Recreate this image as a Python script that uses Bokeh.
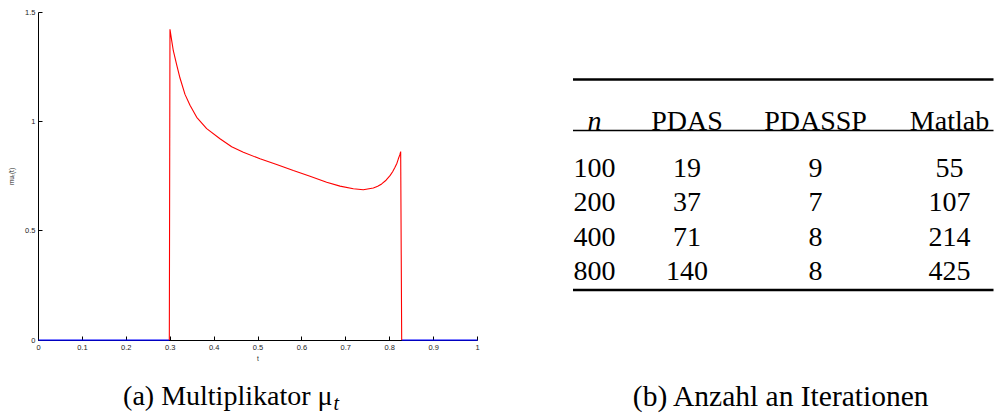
from bokeh.plotting import figure
from bokeh.models import Range1d, FixedTicker
from bokeh.layouts import column, row
from bokeh.embed import file_html
from bokeh.resources import INLINE
from bokeh.core.properties import value

# ---------------- data: multiplier mu_t(t) ----------------
t_active = [0.298, 0.2995, 0.3035, 0.3071, 0.3148, 0.3223, 0.3337, 0.3451, 0.3604,
            0.3831, 0.4134, 0.4400, 0.4666, 0.5046, 0.5425, 0.5805, 0.6185, 0.6564,
            0.6868, 0.7172, 0.7399, 0.7627, 0.7727, 0.7817, 0.7917, 0.8007, 0.8070,
            0.8121, 0.8165, 0.8197, 0.8230, 0.8250, 0.8273]
mu_active = [0.0, 1.423, 1.370, 1.325, 1.260, 1.200, 1.125, 1.075, 1.020,
             0.968, 0.922, 0.885, 0.860, 0.830, 0.804, 0.776, 0.750, 0.723,
             0.705, 0.693, 0.688, 0.696, 0.704, 0.715, 0.732, 0.753, 0.772,
             0.791, 0.810, 0.830, 0.848, 0.863, 0.0]
t_zero_left = [0.0, 0.298]
mu_zero_left = [0.0, 0.0]
t_zero_right = [0.8273, 1.0]
mu_zero_right = [0.0, 0.0]

x_ticks = [0.0, 0.1, 0.2, 0.3, 0.4, 0.5, 0.6, 0.7, 0.8, 0.9, 1.0]
x_tick_labels = ["0", "0.1", "0.2", "0.3", "0.4", "0.5", "0.6", "0.7", "0.8", "0.9", "1"]
y_ticks = [0.0, 0.5, 1.0, 1.5]
y_tick_labels = ["0", "0.5", "1", "1.5"]

# ---------------- data: iteration table ----------------
headers = ["n", "PDAS", "PDASSP", "Matlab"]
n_values = [100, 200, 400, 800]
pdas = [19, 37, 71, 140]
pdassp = [9, 7, 8, 8]
matlab = [55, 107, 214, 425]

caption_a = "(a) Multiplikator μ"
caption_a_sub = "t"
caption_b = "(b) Anzahl an Iterationen"

# ---------------- layout constants ----------------
TOP_H = 366
BT, BB = 12, 26

SANS = "Liberation Sans"
SERIF = value("Liberation Serif")

# ---------------- left chart ----------------
p1 = figure(width=498, height=TOP_H, x_range=Range1d(0, 1), y_range=Range1d(-0.002, 1.5),
            output_backend="svg", toolbar_location=None,
            min_border_left=38, min_border_right=21, min_border_top=BT, min_border_bottom=BB)
p1.outline_line_color = None
p1.grid.visible = False
p1.background_fill_color = "white"

for ax in (p1.xaxis[0], p1.yaxis[0]):
    ax.axis_line_color = "black"
    ax.axis_line_width = 1
    ax.major_tick_line_color = "black"
    ax.major_tick_in = 4
    ax.major_tick_out = 0
    ax.minor_tick_line_color = None
    ax.major_label_text_font = SANS
    ax.major_label_text_font_size = "7.5px"
    ax.major_label_text_color = "#222222"
    ax.axis_label_text_font = SANS
    ax.axis_label_text_font_size = "6.5px"
    ax.axis_label_text_font_style = "normal"
    ax.axis_label_text_color = "#222222"

p1.xaxis[0].ticker = FixedTicker(ticks=x_ticks)
p1.xaxis[0].major_label_overrides = dict(zip(x_ticks, x_tick_labels))
p1.xaxis[0].major_label_standoff = 4
p1.xaxis[0].axis_label = "t"
p1.xaxis[0].axis_label_standoff = 2

p1.yaxis[0].ticker = FixedTicker(ticks=y_ticks)
p1.yaxis[0].major_label_overrides = dict(zip(y_ticks, y_tick_labels))
p1.yaxis[0].major_label_standoff = 3
p1.yaxis[0].axis_label = "muₜ(t)"
p1.yaxis[0].axis_label_standoff = 7

r1 = p1.line(t_zero_left, mu_zero_left, line_color="#0000ff", line_width=1.2)
r2 = p1.line(t_zero_right, mu_zero_right, line_color="#0000ff", line_width=1.2)
r3 = p1.line(t_active, mu_active, line_color="#ff0000", line_width=1.1)
for r in (r1, r2, r3):
    r.level = "overlay"

# ---------------- right table (coordinates = page pixels) ----------------
X0, X1 = 498, 997
p2 = figure(width=X1 - X0, height=TOP_H, x_range=Range1d(X0, X1),
            y_range=Range1d(TOP_H - BB, BT),
            output_backend="svg", toolbar_location=None,
            min_border_left=0, min_border_right=0, min_border_top=BT, min_border_bottom=BB,
            x_axis_location=None, y_axis_location=None)
p2.outline_line_color = None
p2.grid.visible = False

FS = "28px"
col_centers = [594, 686.5, 815, 949]
header_base = 120
row_base0 = 167
row_step = 34.5
rule_left = 572.5
rule_right = 993

p2.text(x=[col_centers[0]], y=[header_base], text=[headers[0]], text_font=SERIF,
        text_font_size=FS, text_font_style="italic", text_align="center",
        text_baseline="alphabetic", text_color="black")
p2.text(x=col_centers[1:], y=[header_base] * 3, text=headers[1:], text_font=SERIF,
        text_font_size=FS, text_align="center", text_baseline="alphabetic", text_color="black")

xs, ys, txt = [], [], []
for i in range(len(n_values)):
    vals = [n_values[i], pdas[i], pdassp[i], matlab[i]]
    for j, v in enumerate(vals):
        xs.append(col_centers[j])
        ys.append(row_base0 + i * row_step)
        txt.append(str(v))
p2.text(x=xs, y=ys, text=txt, text_font=SERIF, text_font_size=FS, text_align="center",
        text_baseline="alphabetic", text_color="black")

p2.segment(x0=[rule_left, rule_left], y0=[79, 289.5], x1=[rule_right, rule_right],
           y1=[79, 289.5], line_color="black", line_width=2.4)
p2.segment(x0=[rule_left], y0=[130], x1=[rule_right], y1=[130], line_color="black",
           line_width=1.3)

# ---------------- captions ----------------
cap = figure(width=997, height=416 - TOP_H, x_range=Range1d(0, 997), y_range=Range1d(416, TOP_H),
             output_backend="svg", toolbar_location=None, min_border=0,
             x_axis_location=None, y_axis_location=None)
cap.outline_line_color = None
cap.grid.visible = False
cap.text(x=[332], y=[395], text=[caption_a], text_font=SERIF, text_font_size=FS,
         text_align="right", text_baseline="middle", text_color="black")
cap.text(x=[333], y=[402], text=[caption_a_sub], text_font=SERIF, text_font_size="20px",
         text_font_style="italic", text_align="left", text_baseline="middle",
         text_color="black")
cap.text(x=[781], y=[395], text=[caption_b], text_font=SERIF, text_font_size="29.5px",
         text_align="center", text_baseline="middle", text_color="black")

layout = column(row(p1, p2), cap)
open("out.html", "w").write(file_html(layout, INLINE))
